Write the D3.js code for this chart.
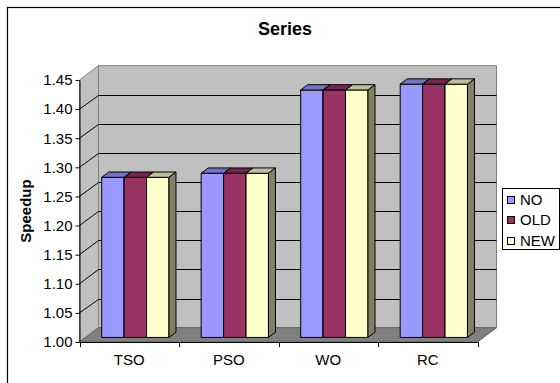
<!DOCTYPE html>
<html>
<head>
<meta charset="utf-8">
<script src="https://cdn.jsdelivr.net/npm/d3@7"></script>
<style>
  html, body { margin: 0; padding: 0; background: #fff; }
  svg { display: block; }
  text { font-family: "Liberation Sans", Arial, sans-serif; fill: #000; }
</style>
</head>
<body>
<svg id="chart" width="560" height="383"></svg>
<script>
// Speedup per memory model, three configurations
const categories = ["TSO", "PSO", "WO", "RC"];
const seriesNames = ["NO", "OLD", "NEW"];
const seriesColors = ["#9999FF", "#993366", "#FFFFCC"];
const valuesNO  = [1.275, 1.282, 1.425, 1.435];
const valuesOLD = [1.275, 1.282, 1.425, 1.435];
const valuesNEW = [1.275, 1.282, 1.425, 1.435];
const yTicks = [1.00, 1.05, 1.10, 1.15, 1.20, 1.25, 1.30, 1.35, 1.40, 1.45];
const chartTitle = "Series";
const yTitle = "Speedup";

const seriesValues = [valuesNO, valuesOLD, valuesNEW];

const svg = d3.select("#chart");

// Front plane of the 3D box
const x0 = d3.scaleBand()
  .domain(categories)
  .range([79.5, 477.5])
  .paddingInner(0.324)
  .paddingOuter(0.162);
const x1 = d3.scaleBand().domain(seriesNames).range([0, x0.bandwidth()]);
const y = d3.scaleLinear().domain([yTicks[0], yTicks[yTicks.length - 1]]).range([342, 80]);

// Depth vector (full depth of the box)
const DX = 19, DY = -14.3;
const P = (x, v, f) => [x + f * DX, y(v) + f * DY];
const poly = pts => "M" + pts.map(p => p.join(",")).join("L") + "Z";

const yMin = yTicks[0], yMax = yTicks[yTicks.length - 1];
const xL = x0.range()[0], xR = x0.range()[1];

// Outer frame
svg.append("rect")
  .attr("x", 7.5).attr("y", 7.5).attr("width", 600).attr("height", 420)
  .attr("fill", "#fff").attr("stroke", "#000").attr("stroke-width", 1.2);

// Title
svg.append("text")
  .attr("x", 285).attr("y", 35)
  .attr("text-anchor", "middle")
  .style("font-size", "18px").style("font-weight", "bold")
  .text(chartTitle);

const box = svg.append("g");

// Back wall
box.append("path")
  .attr("d", poly([P(xL, yMin, 1), P(xR, yMin, 1), P(xR, yMax, 1), P(xL, yMax, 1)]))
  .attr("fill", "#C0C0C0").attr("stroke", "#808080").attr("stroke-width", 1);

// Side wall
box.append("path")
  .attr("d", poly([P(xL, yMin, 0), P(xL, yMin, 1), P(xL, yMax, 1), P(xL, yMax, 0)]))
  .attr("fill", "#C0C0C0").attr("stroke", "#808080").attr("stroke-width", 1);

// Gridlines on back and side walls
const inner = yTicks.slice(1, -1);
box.selectAll("line.gb").data(inner).join("line").attr("class", "gb")
  .attr("x1", d => P(xL, d, 1)[0]).attr("y1", d => Math.round(P(xL, d, 1)[1]) + 0.5)
  .attr("x2", d => P(xR, d, 1)[0]).attr("y2", d => Math.round(P(xL, d, 1)[1]) + 0.5)
  .attr("stroke", "#000").attr("stroke-width", 1);
box.selectAll("line.gs").data(inner).join("line").attr("class", "gs")
  .attr("x1", d => P(xL, d, 0)[0]).attr("y1", d => P(xL, d, 0)[1])
  .attr("x2", d => P(xL, d, 1)[0]).attr("y2", d => Math.round(P(xL, d, 1)[1]) + 0.5)
  .attr("stroke", "#000").attr("stroke-width", 1);

// Floor
box.append("path")
  .attr("d", poly([P(xL, yMin, 0), P(xR, yMin, 0), P(xR, yMin, 1), P(xL, yMin, 1)]))
  .attr("fill", "#808080").attr("stroke", "#606060").attr("stroke-width", 1);

// Value axis
const yAxis = d3.axisLeft(y)
  .tickValues(yTicks)
  .tickFormat(d3.format(".2f"))
  .tickSize(4)
  .tickSizeOuter(0)
  .tickPadding(3);
const gy = svg.append("g").attr("transform", `translate(${xL},0)`).call(yAxis);
gy.select(".domain").attr("stroke", "#000");
gy.selectAll(".tick line").attr("stroke", "#000");
gy.selectAll("text").style("font-size", "15px").attr("font-family", null);

// Category axis
svg.append("line")
  .attr("x1", xL).attr("x2", xR).attr("y1", y(yMin) + 0.5).attr("y2", y(yMin) + 0.5)
  .attr("stroke", "#000");
const bounds = categories.map(c => x0(c) - x0.step() * x0.paddingInner() / 2).concat([xR]);
bounds[0] = xL;
svg.selectAll("line.ct").data(bounds).join("line").attr("class", "ct")
  .attr("x1", d => Math.round(d) + 0.5).attr("x2", d => Math.round(d) + 0.5)
  .attr("y1", y(yMin)).attr("y2", y(yMin) + 5)
  .attr("stroke", "#000");
svg.selectAll("text.cat").data(categories).join("text").attr("class", "cat")
  .attr("x", d => x0(d) + x0.bandwidth() / 2)
  .attr("y", 365)
  .attr("text-anchor", "middle")
  .style("font-size", "15px")
  .text(d => d);

// Axis title
svg.append("text")
  .attr("transform", "translate(31,211) rotate(-90)")
  .attr("text-anchor", "middle")
  .style("font-size", "15px").style("font-weight", "bold")
  .text(yTitle);

// Bars: front face, top face, right side
const F0 = 0.32, F1 = 0.69;
const shade = (c, k) => { const r = d3.rgb(c); return d3.rgb(r.r * k, r.g * k, r.b * k).formatHex(); };
const bars = svg.append("g");
categories.forEach((cat, ci) => {
  seriesNames.forEach((s, si) => {
    const v = seriesValues[si][ci];
    const xa = x0(cat) + x1(s), xb = xa + x1.bandwidth();
    const col = seriesColors[si];
    const g = bars.append("g")
      .attr("stroke", "#000").attr("stroke-width", 1).attr("stroke-linejoin", "round");
    g.append("path").attr("fill", col)
      .attr("d", poly([P(xa, yMin, F0), P(xb, yMin, F0), P(xb, v, F0), P(xa, v, F0)]));
    g.append("path").attr("fill", shade(col, 0.75))
      .attr("d", poly([P(xa, v, F0), P(xb, v, F0), P(xb, v, F1), P(xa, v, F1)]));
    g.append("path").attr("fill", shade(col, 0.5))
      .attr("d", poly([P(xb, yMin, F0), P(xb, yMin, F1), P(xb, v, F1), P(xb, v, F0)]));
  });
});

// Legend
const lg = svg.append("g");
lg.append("rect")
  .attr("x", 502.5).attr("y", 188.5).attr("width", 57).attr("height", 61)
  .attr("fill", "#fff").attr("stroke", "#000");
seriesNames.forEach((s, i) => {
  const cy = 199.5 + i * 20.3;
  lg.append("rect")
    .attr("x", 507.5).attr("y", Math.round(cy - 3.5) + 0.5).attr("width", 7).attr("height", 7)
    .attr("fill", seriesColors[i]).attr("stroke", "#000");
  lg.append("text")
    .attr("x", 520).attr("y", cy + 5.5)
    .style("font-size", "15px")
    .text(s);
});
</script>
</body>
</html>
